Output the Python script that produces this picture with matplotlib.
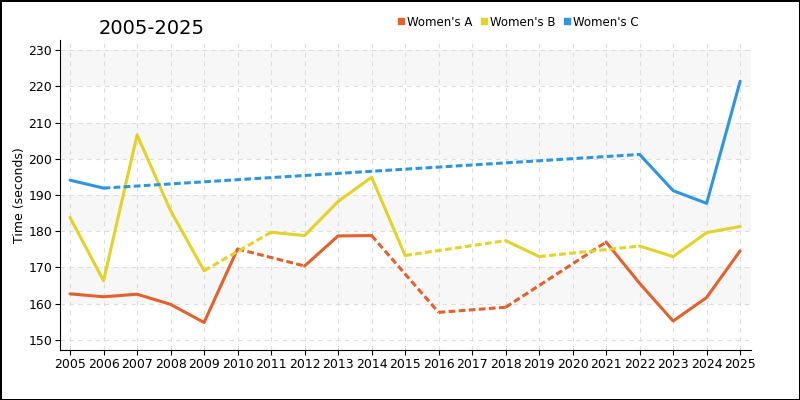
import numpy as np
import matplotlib
matplotlib.use('Agg')
import matplotlib.pyplot as plt
from matplotlib.lines import Line2D

years = list(range(2005, 2026))
nan = np.nan

# times in seconds, nan = no race that year
womens_a = [162.7, 161.9, 162.6, 159.8, 154.8, 175.1, nan, 170.4, 178.7, 178.8,
            nan, 157.6, nan, 159.0, nan, nan, 177.0, 165.6, 155.2, 161.7, 174.6]
womens_b = [183.8, 166.3, 206.6, 185.7, 169.1, nan, 179.7, 178.8, 188.2, 194.9,
            173.3, nan, nan, 177.4, 173.0, nan, nan, 175.9, 173.0, 179.6, 181.3]
womens_c = [194.1, 191.9, nan, nan, nan, nan, nan, nan, nan, nan,
            nan, nan, nan, nan, nan, nan, nan, 201.2, 191.2, 187.7, 221.4]

series = [("Women's A", womens_a, '#e4602c'),
          ("Women's B", womens_b, '#e2d22a'),
          ("Women's C", womens_c, '#2e95e0')]

yticks = [150, 160, 170, 180, 190, 200, 210, 220, 230]

fig = plt.figure(figsize=(8, 4), dpi=100)
fig.patch.set_edgecolor('black')
fig.patch.set_linewidth(2)
ax = fig.add_axes([0.075, 0.125, 0.864, 0.775])

# alternating background bands
for lo in [160, 180, 200, 220]:
    ax.axhspan(lo, lo + 10, color='#f7f7f7', zorder=0, lw=0)

for name, vals, col in series:
    x = np.array(years, dtype=float)
    y = np.array(vals, dtype=float)
    ax.plot(x, y, color=col, lw=2.2, solid_capstyle='round', zorder=3)
    # dashed bridge over the missing years
    ok = np.where(~np.isnan(y))[0]
    for i, j in zip(ok[:-1], ok[1:]):
        if j - i > 1:
            ax.plot([x[i], x[j]], [y[i], y[j]], color=col, lw=2.2,
                    dashes=(2.2, 1.1), zorder=3)

ax.set_xlim(2004.7, 2025.33)
ax.set_ylim(147.2, 232.8)
ax.set_xticks(years)
ax.set_yticks(yticks)
ax.tick_params(labelsize=9, length=3.5, color='black', pad=2)
ax.grid(True, color='#dddddd', lw=0.8, dashes=(4, 4))
ax.set_axisbelow(True)
for s in ['top', 'right']:
    ax.spines[s].set_visible(False)
ax.set_ylabel('Time (seconds)', fontsize=9, labelpad=2)

fig.text(0.19, 0.93, '2005-2025', fontsize=14, ha='center', va='center')

handles = [Line2D([], [], marker='s', ls='none', color=c, markersize=5)
           for _, _, c in series]
fig.legend(handles, [n for n, _, _ in series], loc='center', ncol=3,
           bbox_to_anchor=(0.647, 0.945), frameon=False, fontsize=8.5,
           handletextpad=0.1, columnspacing=0.6, handlelength=0.8)

fig.savefig('out.png', dpi=100, edgecolor=fig.get_edgecolor())
